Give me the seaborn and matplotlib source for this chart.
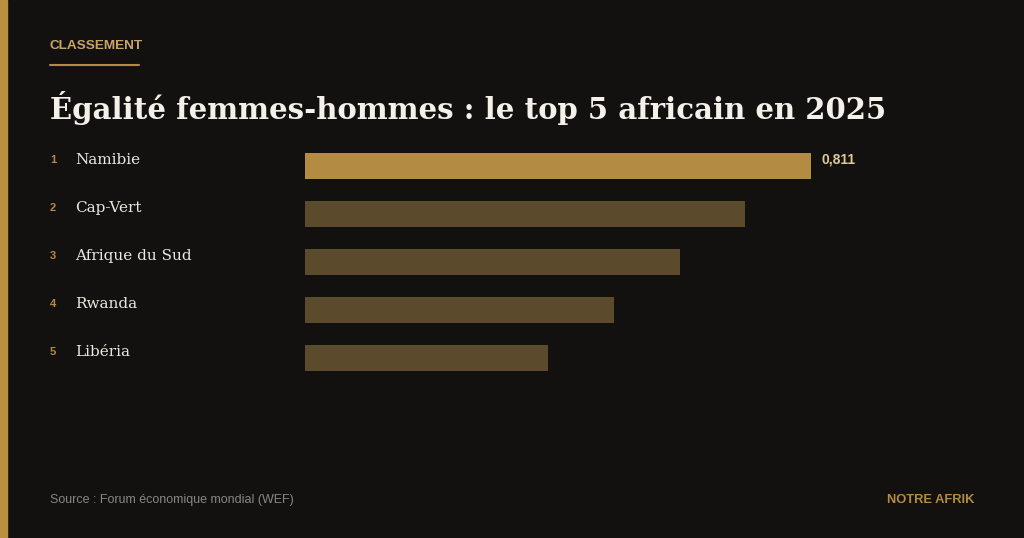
import numpy as np
import pandas as pd
import matplotlib.pyplot as plt
import seaborn as sns
from matplotlib.patches import Rectangle
from matplotlib.lines import Line2D

# --- data ---
rangs = ['1', '2', '3', '4', '5']
pays = ['Namibie', 'Cap-Vert', 'Afrique du Sud', 'Rwanda', 'Libéria']
scores = [0.811, 0.705, 0.601, 0.495, 0.390]   # lengths
labels_valeur = ['0,811', '', '', '', '']

BG = '#131110'
GOLD = '#b48b42'
GOLD_DARK = '#5c4a2c'
TXT = '#ece8e0'

df = pd.DataFrame({'pays': pays, 'score': scores})

sns.set_theme(style='white')
plt.rcParams['font.family'] = ['Liberation Sans', 'DejaVu Sans']

W, H = 1024, 538
fig = plt.figure(figsize=(W / 100, H / 100), dpi=100, facecolor=BG)

# left accent stripe
fig.patches.append(Rectangle((0, 0), 7 / W, 1, transform=fig.transFigure,
                             color='#b8903f', zorder=5))

# axes area: x 305 -> 811 px for 0 -> 0.811 ; rows from y=142 to 382 px
ax = fig.add_axes([305 / W, 1 - 382 / H, (811 - 305) / W, 240 / H])
ax.set_facecolor(BG)
palette = [GOLD] + [GOLD_DARK] * 4
sns.barplot(data=df, x='score', y='pays', hue='pays', palette=palette,
            orient='h', width=0.55, legend=False, ax=ax, saturation=1,
            linewidth=0, edgecolor='none')
ax.set_xlim(0, 0.811)
ax.set_ylim(4.5, -0.5)
ax.axis('off')

for i, (p, r, lab) in enumerate(zip(pays, rangs, labels_valeur)):
    ax.annotate(r, xy=(0, i), xycoords=('figure fraction', 'data'),
                xytext=(53, 6), textcoords='offset pixels',
                ha='center', va='center', fontsize=8, color=GOLD,
                fontweight='bold', annotation_clip=False)
    ax.annotate(p, xy=(0, i), xycoords=('figure fraction', 'data'),
                xytext=(75, 6), textcoords='offset pixels',
                ha='left', va='center', fontsize=11, color=TXT,
                family='DejaVu Serif', annotation_clip=False)
    if lab:
        ax.annotate(lab, xy=(scores[i], i), xytext=(11, 7),
                    textcoords='offset pixels', ha='left', va='center',
                    fontsize=10, color='#e0c894', fontweight='bold',
                    annotation_clip=False)

# header
fig.text(50 / W, 1 - 46 / H, 'CLASSEMENT', color='#c9a468', fontsize=9.7,
         fontweight='bold', ha='left', va='center')
fig.add_artist(Line2D([50 / W, 139 / W], [1 - 65 / H, 1 - 65 / H],
                      color=GOLD, lw=1.5, transform=fig.transFigure))
fig.text(50 / W, 1 - 108 / H,
         'Égalité femmes-hommes : le top 5 africain en 2025',
         color='#f4f1ea', fontsize=21, fontweight='bold',
         family='DejaVu Serif', ha='left', va='center')

# footer
fig.text(50 / W, 1 - 500 / H, 'Source : Forum économique mondial (WEF)',
         color='#8a8580', fontsize=9, ha='left', va='center')
fig.text(974 / W, 1 - 500 / H, 'NOTRE AFRIK', color=GOLD, fontsize=9.3,
         fontweight='bold', ha='right', va='center')

fig.savefig('out.png', dpi=100, facecolor=BG)
